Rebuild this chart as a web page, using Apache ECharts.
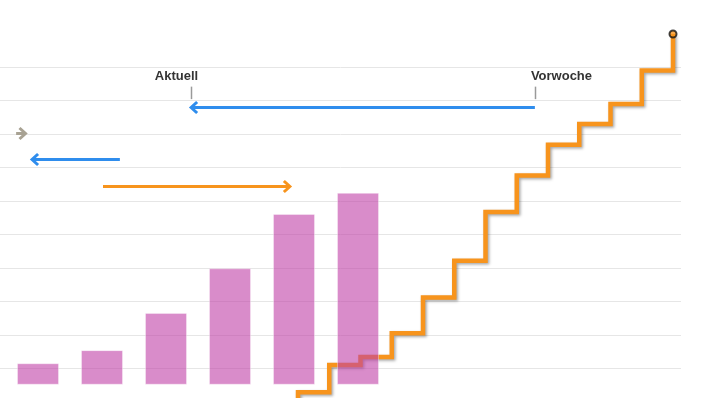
<!DOCTYPE html>
<html>
<head>
<meta charset="utf-8">
<script src="https://cdn.jsdelivr.net/npm/echarts@6/dist/echarts.min.js"></script>
<style>
  html, body { margin: 0; padding: 0; background: #ffffff; }
  #chart { width: 708px; height: 398px; }
</style>
</head>
<body>
<div id="chart"></div>
<script>
// ---- data ----
const stepX = [-1, 0, 1, 2, 3, 4, 5, 6, 7, 8, 9, 10, 11, 12];
const stepY = [-1.6, -0.70, 0.11, 0.35, 1.06, 2.12, 3.22, 4.67, 5.76, 6.68, 7.30, 7.89, 8.89, 9.98];

const barCategories = ['1', '2', '3', '4', '5', '6'];
const barValues = [0.64, 1.03, 2.14, 3.47, 5.09, 5.72];

const arrowStart = [7.58, -9.02, -5.70, -6.24];
const arrowEnd   = [-3.42, -8.72, -8.51, -0.26];
const arrowLevel = [7.80, 7.02, 6.24, 5.46];

const markerLabels = ['Aktuell', 'Vorwoche'];
const markerX = [-3.42, 7.58];
const markerLevel = 7.80;

// ---- styles ----
const arrowColors = ['#2f8ded', '#a8a293', '#2f8ded', '#f7941d'];
const orange = '#f7941d';

const chart = echarts.init(document.getElementById('chart'), null, { renderer: 'canvas' });

const stepData = stepX.map((x, i) => [x, stepY[i]]);
const lastPoint = stepData[stepData.length - 1];
const arrowData = arrowStart.map((s, i) => [s, arrowEnd[i], arrowLevel[i], i]);
const markerData = markerX.map((x, i) => [x, markerLevel, i]);

const option = {
  animation: false,
  backgroundColor: '#ffffff',
  grid: [
    { left: 0, right: 27, top: 66.9, bottom: 29.3 },
    { left: 6, right: 318, top: 49.3, bottom: 13.3 }
  ],
  xAxis: [
    { type: 'value', gridIndex: 0, min: -9.536, max: 12.256, show: false },
    { type: 'category', gridIndex: 1, data: barCategories, show: false }
  ],
  yAxis: [
    {
      type: 'value', gridIndex: 0, min: 0, max: 9, interval: 1,
      axisLine: { show: false }, axisTick: { show: false }, axisLabel: { show: false },
      splitLine: { show: true, lineStyle: { color: '#e6e6e6', width: 1 } }
    },
    { type: 'value', gridIndex: 1, min: 0, max: 10, show: false }
  ],
  series: [
    {
      type: 'line',
      xAxisIndex: 0, yAxisIndex: 0,
      data: stepData,
      step: 'end',
      clip: false,
      symbol: 'none',
      z: 1,
      lineStyle: {
        color: orange, width: 4.5, join: 'miter', cap: 'butt',
        shadowColor: 'rgba(0,0,0,0.35)', shadowBlur: 3, shadowOffsetX: 1.5, shadowOffsetY: 1.5
      }
    },
    {
      type: 'scatter',
      xAxisIndex: 0, yAxisIndex: 0,
      data: [lastPoint],
      clip: false,
      symbol: 'circle',
      symbolSize: 7,
      z: 5,
      itemStyle: { color: orange, borderColor: '#111111', borderWidth: 2 }
    },
    {
      type: 'bar',
      xAxisIndex: 1, yAxisIndex: 1,
      data: barValues,
      barWidth: 42,
      z: 3,
      itemStyle: { color: 'rgba(192,63,167,0.6)', borderColor: 'rgba(255,255,255,0.35)', borderWidth: 1 }
    },
    {
      type: 'custom',
      xAxisIndex: 0, yAxisIndex: 0,
      data: arrowData,
      clip: false,
      z: 6,
      renderItem: function (params, api) {
        const y = api.value(2);
        const s = api.coord([api.value(0), y]);
        const e = api.coord([api.value(1), y]);
        const dir = e[0] > s[0] ? 1 : -1;
        const color = arrowColors[api.value(3)];
        const yy = Math.round(e[1]) + 0.5;
        return {
          type: 'group',
          children: [
            { type: 'line', shape: { x1: s[0], y1: yy, x2: e[0] - dir * 1.5, y2: yy },
              style: { stroke: color, lineWidth: 3 } },
            { type: 'polyline', shape: { points: [[e[0] - dir * 6, yy - 5.5], [e[0], yy], [e[0] - dir * 6, yy + 5.5]] },
              style: { stroke: color, fill: null, lineWidth: 3, lineJoin: 'miter' } }
          ]
        };
      }
    },
    {
      type: 'custom',
      xAxisIndex: 0, yAxisIndex: 0,
      data: markerData,
      clip: false,
      z: 6,
      renderItem: function (params, api) {
        const p = api.coord([api.value(0), api.value(1)]);
        const idx = api.value(2);
        const x = Math.round(p[0]) + 0.5;
        const right = idx === 0;
        return {
          type: 'group',
          children: [
            { type: 'line', shape: { x1: x, y1: p[1] - 20.5, x2: x, y2: p[1] - 8 },
              style: { stroke: '#9a9a9a', lineWidth: 1.5 } },
            { type: 'text',
              style: {
                x: right ? p[0] + 7 : p[0] - 4,
                y: p[1] - 30.5,
                text: markerLabels[idx],
                align: right ? 'right' : 'left',
                verticalAlign: 'middle',
                fill: '#333333',
                font: 'bold 13px "Liberation Sans", Arial, sans-serif'
              } }
          ]
        };
      }
    }
  ]
};

chart.setOption(option);
</script>
</body>
</html>
